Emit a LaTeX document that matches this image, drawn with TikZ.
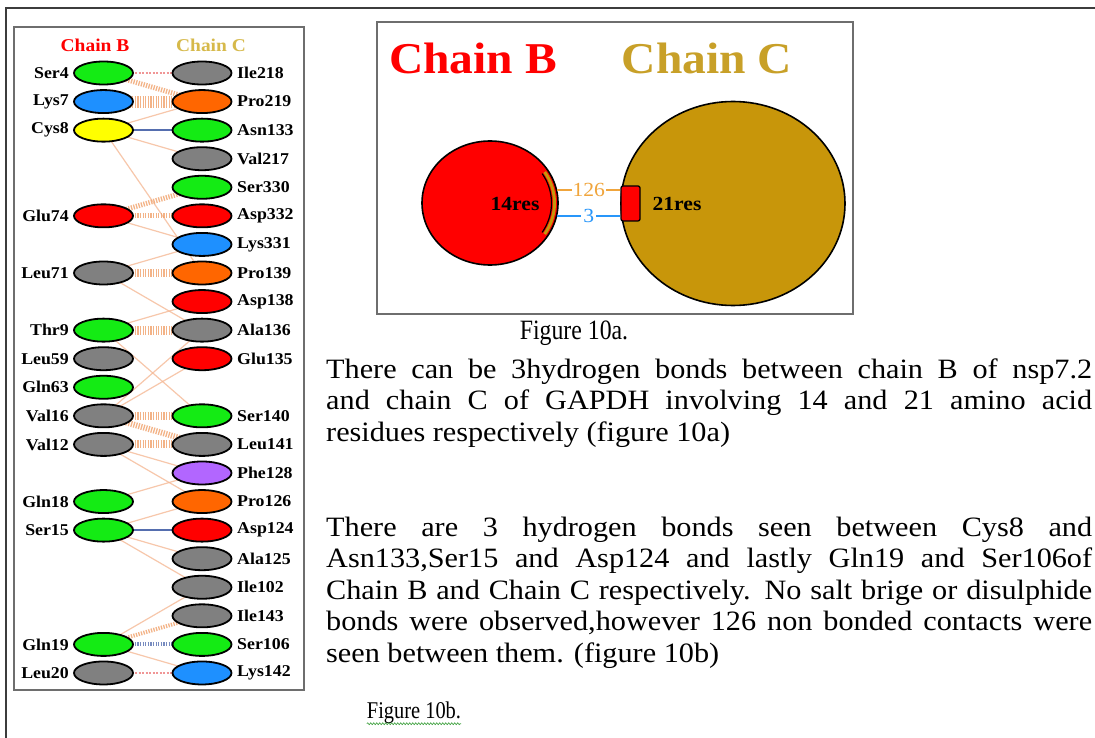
\documentclass[tikz,border=0pt]{standalone}
\usepackage{fontspec}
\setmainfont{Liberation Serif}[FakeStretch=1.08]
\newfontfamily\capfont{Liberation Serif}[FakeStretch=0.85]
\usetikzlibrary{shapes.geometric,decorations.pathmorphing,calc}
\pgfdeclarelayer{background}
\pgfsetlayers{background,main}
\hbadness=10000
\tolerance=10000

% residue colours
\definecolor{resgreen}{RGB}{20,235,20}
\definecolor{resblue}{RGB}{30,144,255}
\definecolor{resyellow}{RGB}{255,255,0}
\definecolor{resgray}{RGB}{128,128,128}
\definecolor{resorange}{RGB}{255,102,0}
\definecolor{resred}{RGB}{255,0,0}
\definecolor{respurple}{RGB}{178,102,255}
% connector and title colours
\definecolor{nbcol}{RGB}{245,185,150}
\definecolor{bandcol}{RGB}{240,160,105}
\definecolor{pinkcol}{RGB}{240,150,150}
\definecolor{hbcol}{RGB}{85,110,175}
\definecolor{panelgray}{RGB}{110,110,110}
\definecolor{framegray}{RGB}{60,60,60}
\definecolor{chainred}{RGB}{255,0,0}
\definecolor{chaingold}{RGB}{200,150,10}
\definecolor{titlegold}{RGB}{200,160,40}
\definecolor{palegold}{RGB}{214,185,74}
\definecolor{contactorange}{RGB}{240,165,60}
\definecolor{hbondblue}{RGB}{40,150,250}
\definecolor{squigglegreen}{RGB}{60,160,60}

\begin{document}
\begin{tikzpicture}[x=1pt,y=-1pt,
  res/.style={ellipse, draw=black, line width=1.8pt, minimum width=59pt, minimum height=23pt, inner sep=0pt},
  reslbl/.style={font=\fontsize{16.5}{17}\selectfont\bfseries, inner sep=0pt},
  nbline/.style={draw=nbcol, line width=1.2pt, opacity=0.8},
  pinkline/.style={draw=pinkcol, line width=1.2pt, dash pattern=on 2pt off 1.5pt},
  hatchband/.style={draw=bandcol, dash pattern=on 1.3pt off 1.3pt, opacity=0.8},
  hbline/.style={draw=hbcol, line width=1.3pt},
  bodytext/.style={anchor=base west, text width=766pt, align=justify, inner sep=0pt, font=\fontsize{28}{31.5}\selectfont},
  captext/.style={inner sep=0pt, font=\fontsize{28}{28}\capfont},
  chainball/.style={ellipse, draw=black, line width=1.6pt, inner sep=0pt}
]
\useasboundingbox (0,0) rectangle (1095,738);
\begin{pgfonlayer}{background}
  \fill[white] (0,0) rectangle (1095,738);
\end{pgfonlayer}

% page frame
\draw[framegray, line width=2pt] (6,738) -- (6,8) -- (1095,8);

% ---------- residue interaction panel ----------
\draw[panelgray, line width=2pt] (14,27) rectangle (304,690);
\node[text=chainred, font=\fontsize{18}{18}\selectfont\bfseries] (ttlB) at (95,45) {Chain B};
\node[text=palegold, font=\fontsize{18}{18}\selectfont\bfseries] (ttlC) at (211,45) {Chain C};

\foreach \nm/\r/\c in {Ser4/0/resgreen, Lys7/1/resblue, Cys8/2/resyellow, Glu74/5/resred,
    Leu71/7/resgray, Thr9/9/resgreen, Leu59/10/resgray, Gln63/11/resgreen, Val16/12/resgray,
    Val12/13/resgray, Gln18/15/resgreen, Ser15/16/resgreen, Gln19/20/resgreen, Leu20/21/resgray} {
  \node[res, fill=\c] (\nm) at (103.5,{73+28.57*\r}) {};
  \node[reslbl, anchor=east] (l\nm) at (69,{73+28.57*\r}) {\nm};
}
\foreach \nm/\r/\c in {Ile218/0/resgray, Pro219/1/resorange, Asn133/2/resgreen, Val217/3/resgray,
    Ser330/4/resgreen, Asp332/5/resred, Lys331/6/resblue, Pro139/7/resorange, Asp138/8/resred,
    Ala136/9/resgray, Glu135/10/resred, Ser140/12/resgreen, Leu141/13/resgray, Phe128/14/respurple,
    Pro126/15/resorange, Asp124/16/resred, Ala125/17/resgray, Ile102/18/resgray, Ile143/19/resgray,
    Ser106/20/resgreen, Lys142/21/resblue} {
  \node[res, fill=\c] (\nm) at (202,{73+28.57*\r}) {};
  \node[reslbl, anchor=west] (l\nm) at (237,{73+28.57*\r}) {\nm};
}

\begin{pgfonlayer}{background}
  % single non-bonded contacts
  \foreach \a/\b in {Cys8/Pro219, Cys8/Val217, Cys8/Pro139, Glu74/Lys331, Leu71/Lys331,
      Leu71/Ala136, Thr9/Asp138, Thr9/Ser140, Val16/Ala136, Val16/Glu135, Val12/Phe128,
      Val12/Pro126, Gln18/Phe128, Ser15/Pro126, Ser15/Ala125, Ser15/Ile102, Gln19/Ile102,
      Gln19/Lys142}
    \draw[nbline] (\a.center) -- (\b.center);
  \foreach \a/\b in {Ser4/Ile218, Leu20/Lys142}
    \draw[pinkline] (\a.center) -- (\b.center);
  % bundles of non-bonded contacts
  \foreach \a/\b/\w in {Ser4/Pro219/5, Lys7/Pro219/12, Glu74/Ser330/5, Glu74/Asp332/5,
      Leu71/Pro139/8, Thr9/Ala136/9, Val16/Ser140/8, Val16/Leu141/6, Val12/Leu141/8,
      Gln19/Ile143/4}
    \draw[hatchband, line width=\w pt] (\a.center) -- (\b.center);
  % hydrogen bonds
  \draw[hbline] (Cys8.center) -- (Asn133.center);
  \draw[hbline] (Ser15.center) -- (Asp124.center);
  \draw[hbcol, line width=4pt, dash pattern=on 1.3pt off 1.3pt, opacity=0.8] (Gln19.center) -- (Ser106.center);
\end{pgfonlayer}

% ---------- chain interface summary ----------
\draw[panelgray, line width=2pt] (377,22) rectangle (853,314);
\node[text=chainred, font=\fontsize{44}{44}\selectfont\bfseries] (bigB) at (473,58) {Chain B};
\node[text=titlegold, font=\fontsize{44}{44}\selectfont\bfseries] (bigC) at (707,58) {Chain C};

\node[chainball, fill=chainred, minimum width=136pt, minimum height=124pt] (redc) at (490,203) {};
\node[chainball, fill=chaingold, minimum width=224pt, minimum height=204pt] (goldc) at (733,203.5) {};
\node[draw=black, line width=1.3pt, fill=chainred, rounded corners=2pt, minimum width=19pt,
      minimum height=35pt, inner sep=0pt] (rrect) at (630.5,203.5) {};

% interface patch on chain B
\draw[black, line width=1.2pt] plot[domain=-32:32, samples=30, smooth] ({490+61.5*cos(\x)}, {203+55.5*sin(\x)});
\draw[chaingold, line width=3pt] plot[domain=-32:32, samples=30, smooth] ({490+64.5*cos(\x)}, {203+58.5*sin(\x)});

\node[font=\fontsize{20}{20}\selectfont\bfseries] (res14) at (515,204) {14res};
\node[font=\fontsize{20}{20}\selectfont\bfseries] (res21) at (677,204) {21res};

\draw[contactorange, line width=1.2pt] (redc.11) -- node[fill=white, inner sep=1pt, text=contactorange,
      font=\fontsize{20}{20}\selectfont] (n126) {126} (redc.11 -| rrect.west);
\draw[hbondblue, line width=2.2pt] (redc.-11) -- node[fill=white, inner sep=2pt, text=hbondblue,
      font=\fontsize{20}{20}\selectfont] (n3) {3} (redc.-11 -| rrect.west);

% ---------- captions and text ----------
\node[captext] (cap10a) at (574,333) {Figure 10a.};
\node[bodytext] (par1) at (326,378) {There can be 3hydrogen bonds between chain B of nsp7.2\linebreak
  and chain C of GAPDH involving 14 and 21 amino acid\linebreak
  residues respectively (figure 10a)};
\node[bodytext] (par2) at (326,536) {There are 3 hydrogen bonds seen between Cys8 and\linebreak
  Asn133,Ser15 and Asp124 and lastly Gln19 and Ser106of\linebreak
  Chain B and Chain C respectively. No salt brige or disulphide\linebreak
  bonds were observed,however 126 non bonded contacts were\linebreak
  seen between them. (figure 10b)};
\node[captext, font=\fontsize{24}{24}\capfont] (cap10b) at (414,713) {Figure 10b.};
\draw[squigglegreen, line width=0.6pt, decorate, decoration={snake, amplitude=1pt, segment length=3pt}]
  ($(cap10b.base west)+(0,5)$) -- ($(cap10b.base east)+(0,5)$);
\end{tikzpicture}
\end{document}
